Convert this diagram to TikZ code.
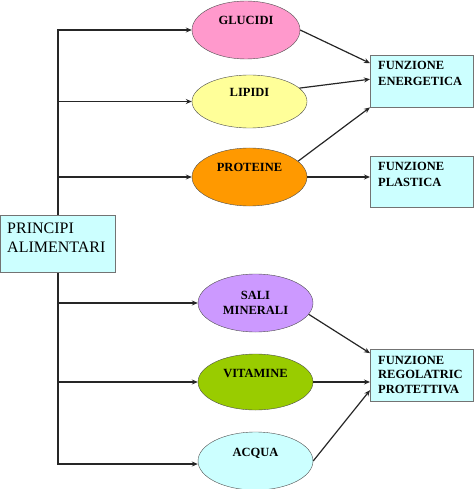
\documentclass[tikz,border=0pt]{standalone}
\usepackage{fontspec}
\setmainfont{Liberation Serif}
\usetikzlibrary{positioning, shapes.geometric, arrows.meta}
\definecolor{rosa}{HTML}{FF99CC}
\definecolor{giallo}{HTML}{FFFF99}
\definecolor{arancio}{HTML}{FF9900}
\definecolor{lilla}{HTML}{CC99FF}
\definecolor{oliva}{HTML}{99CC00}
\definecolor{azzurro}{HTML}{CCFFFF}
\tikzset{
principio/.style={draw=black!70, ellipse, inner sep=0pt, minimum width=115bp, minimum height=58bp, align=center,
  font=\bfseries\fontsize{12.5bp}{15bp}\selectfont, text height=9bp, text depth=19bp},
funzione/.style={draw=black!55, fill=azzurro, anchor=north west, align=left, inner xsep=8bp, inner ysep=0pt,
  text width=87bp, minimum width=103bp, font=\bfseries\fontsize{12.5bp}{16bp}\selectfont, text height=14bp, text depth=38bp},
link/.style={line width=1.2bp, draw=black!85, -{Stealth[length=6bp, width=5bp]}},
}

\begin{document}
\begin{tikzpicture}[x=1bp, y=-1bp]
    \useasboundingbox (0,0) rectangle (474,489);
    \coordinate (trunk) at (58,32);

    %principi alimentari
    \node[principio, fill=rosa, minimum width=108bp]  (gluc) at (246,30)    {GLUCIDI};
    \node[principio, fill=giallo, minimum height=53bp] (lip) at (249.5,101.5) {LIPIDI};
    \node[principio, fill=arancio]  (prot) at (249.5,177)  {PROTEINE};
    \node[principio, fill=lilla, text height=, text depth=] (sali) at (255.5,303) {SALI\\MINERALI};
    \node[principio, fill=oliva, minimum height=56bp]  (vit) at (255.5,382)  {VITAMINE};
    \node[principio, fill=azzurro]  (acq) at (255.5,461)  {ACQUA};

    %funzioni
    \node[funzione]                 (energ) at (370,55)  {FUNZIONE\\ENERGETICA};
    \node[funzione, text depth=37bp] (plast) at (370,156) {FUNZIONE\\PLASTICA};
    \node[funzione, font=\bfseries\fontsize{12.5bp}{14.5bp}\selectfont, text height=15bp, text depth=37bp]
      (regol) at (370,349) {FUNZIONE\\REGOLATRIC\\PROTETTIVA};

    %trunk, drawn before the box that hides it
    \draw[link] (trunk |- 0,250) |- (gluc);
    \draw[link] (trunk |- 0,250) |- (lip);
    \draw[link] (trunk |- 0,250) |- (prot);
    \draw[link] (trunk |- 0,250) |- (sali);
    \draw[link] (trunk |- 0,250) |- (vit);
    \draw[link] (trunk |- 0,250) |- ([yshift=-3bp]acq.west);

    \node[draw=black!55, fill=azzurro, anchor=north west, align=left, inner xsep=7bp, inner ysep=0pt,
      text width=101bp, font=\fontsize{16bp}{19bp}\selectfont, text height=18bp, text depth=39bp]
      (princ) at (0,215) {PRINCIPI\\ALIMENTARI};

    %verso le funzioni
    \draw[link] (gluc.east) -- ([yshift=18bp]energ.west);
    \draw[link] (lip.15) -- ([yshift=2bp]energ.west);
    \draw[link] (prot.18) -- (energ.south west);
    \draw[link] (prot.east) -- (prot.east -| plast.west);
    \draw[link] (sali.-12) -- ([yshift=22bp]regol.west);
    \draw[link] (vit.east) -- (vit.east -| regol.west);
    \draw[link] (acq.east) -- ([yshift=-15bp]regol.west);
\end{tikzpicture}
\end{document}
